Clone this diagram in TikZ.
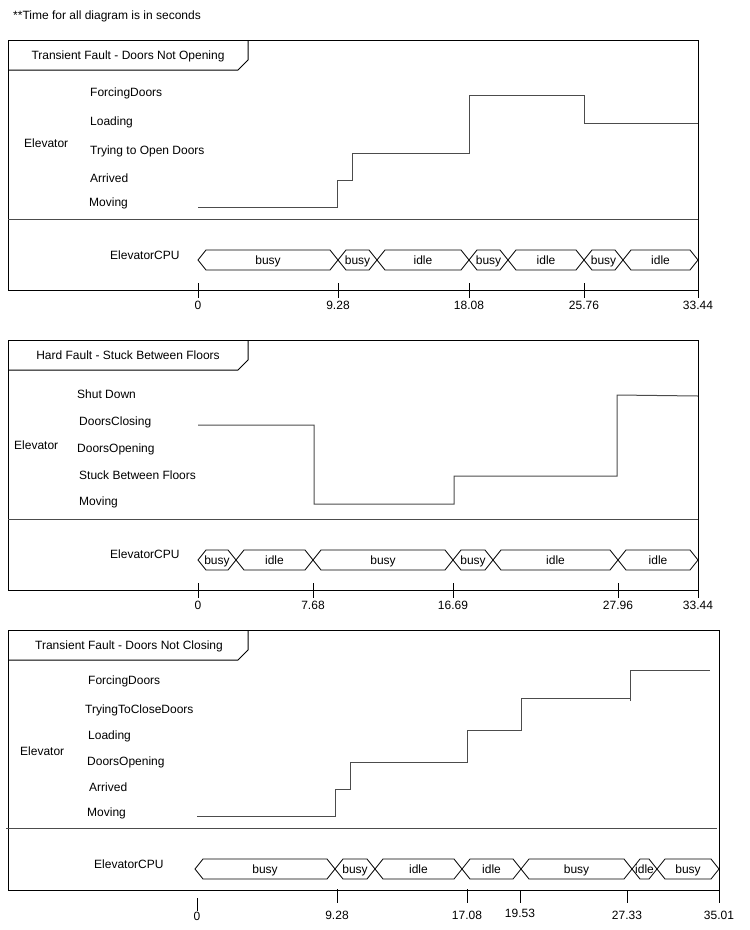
\documentclass[tikz,border=0pt]{standalone}
\usepackage{fontspec}
\setmainfont{Liberation Sans}
\usetikzlibrary{positioning}
\tikzstyle{frame} = [draw=black, line width=1pt]
\tikzstyle{divider} = [draw=black!70, line width=1pt]
\tikzstyle{wave} = [draw=black!70, line width=1pt]
\tikzstyle{segline} = [draw=black, line width=0.8pt]
\tikzstyle{lbl} = [inner sep=0pt, text height=8.6pt, text depth=0pt, font=\fontsize{12}{14}\selectfont]
\tikzstyle{statelbl} = [lbl, anchor=west]
\tikzstyle{seglbl} = [lbl]
\tikzstyle{ticklbl} = [lbl, anchor=north]
% name, x start, x end, y centre, label
\newcommand{\cpuseg}[5]{%
  \draw [segline] (#2,#4) -- (#2+8,#4-10) -- (#3-8,#4-10) -- (#3,#4) -- (#3-8,#4+10) -- (#2+8,#4+10) -- cycle;
  \node (#1) [seglbl] at ({(#2+#3)/2},#4) {#5};}
% name, x, y top, y bottom, gap, label
\newcommand{\tmark}[6]{%
  \coordinate (#1) at (#2,#4);
  \draw [frame] (#2,#3) -- (#1);
  \node (#1lbl) [ticklbl, below=#5 of #1] {#6};}

\begin{document}
\begin{tikzpicture}[x=1pt, y=-1pt]
			\useasboundingbox (0,0) rectangle (750,930);
			\node (note) [statelbl] at (13,15) {**Time for all diagram is in seconds};
			%-----------------------------------------------
			% Transient Fault - Doors Not Opening
			%-----------------------------------------------
			\draw [frame] (8,40) rectangle (698,290);
			\draw [frame] (8,70) -- (238,70) -- (248,60) -- (248,40);
			\node (titlea) [lbl] at (128,55) {Transient Fault - Doors Not Opening};
			\draw [divider] (8,219) -- (698,219);
			\node (elevA) [statelbl] at (24,143) {Elevator};
			\node (forceA) [statelbl] at (90,92) {ForcingDoors};
			\node (loadA) [statelbl] at (90,121) {Loading};
			\node (tryA) [statelbl] at (90,150) {Trying to Open Doors};
			\node (arrA) [statelbl] at (90,178) {Arrived};
			\node (moveA) [statelbl] at (89,202) {Moving};
			\draw [wave] (198,207) -| (337,180) -| (352,153) -| (469,95) -| (584,123) -- (698,123);
			\node (cpuA) [statelbl] at (110,255) {ElevatorCPU};
			\cpuseg{sa1}{198}{338}{260}{busy}
			\cpuseg{sa2}{338}{377}{260}{busy}
			\cpuseg{sa3}{377}{469}{260}{idle}
			\cpuseg{sa4}{469}{508}{260}{busy}
			\cpuseg{sa5}{508}{584}{260}{idle}
			\cpuseg{sa6}{584}{623}{260}{busy}
			\cpuseg{sa7}{623}{698}{260}{idle}
			\tmark{ta1}{198}{283}{298}{2.5pt}{0}
			\tmark{ta2}{338}{283}{298}{2.5pt}{9.28}
			\tmark{ta3}{469}{283}{298}{2.5pt}{18.08}
			\tmark{ta4}{584}{283}{298}{2.5pt}{25.76}
			\tmark{ta5}{698}{283}{298}{2.5pt}{33.44}
			%-----------------------------------------------
			% Hard Fault - Stuck Between Floors
			%-----------------------------------------------
			\draw [frame] (8,340) rectangle (698,590);
			\draw [frame] (8,370) -- (238,370) -- (248,360) -- (248,340);
			\node (titleb) [lbl] at (128,355) {Hard Fault - Stuck Between Floors};
			\draw [divider] (8,519) -- (698,519);
			\node (elevB) [statelbl] at (14,445) {Elevator};
			\node (shutB) [statelbl] at (77,394) {Shut Down};
			\node (closeB) [statelbl] at (79,421) {DoorsClosing};
			\node (openB) [statelbl] at (77,448) {DoorsOpening};
			\node (stuckB) [statelbl] at (79,475) {Stuck Between Floors};
			\node (moveB) [statelbl] at (79,501) {Moving};
			\draw [wave] (198,425) -| (314,504) -| (454,476) -| (617,395) -- (698,396);
			\node (cpuB) [statelbl] at (110,554) {ElevatorCPU};
			\cpuseg{sb1}{198}{236}{560}{busy}
			\cpuseg{sb2}{236}{313}{560}{idle}
			\cpuseg{sb3}{313}{453}{560}{busy}
			\cpuseg{sb4}{453}{493}{560}{busy}
			\cpuseg{sb5}{493}{618}{560}{idle}
			\cpuseg{sb6}{618}{698}{560}{idle}
			\tmark{tb1}{198}{583}{598}{2.5pt}{0}
			\tmark{tb2}{313}{583}{598}{2.5pt}{7.68}
			\tmark{tb3}{453}{583}{598}{2.5pt}{16.69}
			\tmark{tb4}{618}{583}{598}{2.5pt}{27.96}
			\tmark{tb5}{698}{583}{598}{2.5pt}{33.44}
			%-----------------------------------------------
			% Transient Fault - Doors Not Closing
			%-----------------------------------------------
			\draw [frame] (8,630) rectangle (719,890);
			\draw [frame] (8,660) -- (238,660) -- (248,650) -- (248,630);
			\node (titlec) [lbl] at (129,645) {Transient Fault - Doors Not Closing};
			\draw [divider] (6,828) -- (717,828);
			\node (elevC) [statelbl] at (20,751) {Elevator};
			\node (forceC) [statelbl] at (88,680) {ForcingDoors};
			\node (tryC) [statelbl] at (85,709) {TryingToCloseDoors};
			\node (loadC) [statelbl] at (88,735) {Loading};
			\node (openC) [statelbl] at (87,761) {DoorsOpening};
			\node (arrC) [statelbl] at (89,787) {Arrived};
			\node (moveC) [statelbl] at (87,812) {Moving};
			\draw [wave] (197,816) -| (335,789) -| (350,762) -| (467,730) -| (521,698) -- (630,698);
			\draw [wave] (630,701) -- (630,670) -- (710,670);
			\node (cpuC) [statelbl] at (94,864) {ElevatorCPU};
			\cpuseg{sc1}{195}{335}{869}{busy}
			\cpuseg{sc2}{335}{375}{869}{busy}
			\cpuseg{sc3}{375}{462}{869}{idle}
			\cpuseg{sc4}{462}{521}{869}{idle}
			\cpuseg{sc5}{521}{632}{869}{busy}
			\cpuseg{sc6}{632}{657}{869}{idle}
			\cpuseg{sc7}{657}{719}{869}{busy}
			\tmark{tc1}{197}{898}{911}{0.7pt}{0}
			\tmark{tc2}{337}{889}{903}{7.7pt}{9.28}
			\tmark{tc3}{467}{889}{903}{7.7pt}{17.08}
			\tmark{tc4}{520}{890}{903}{5.7pt}{19.53}
			\tmark{tc5}{627}{890}{903}{7.7pt}{27.33}
			\tmark{tc6}{719}{890}{903}{7.7pt}{35.01}
			\end{tikzpicture}
\end{document}
